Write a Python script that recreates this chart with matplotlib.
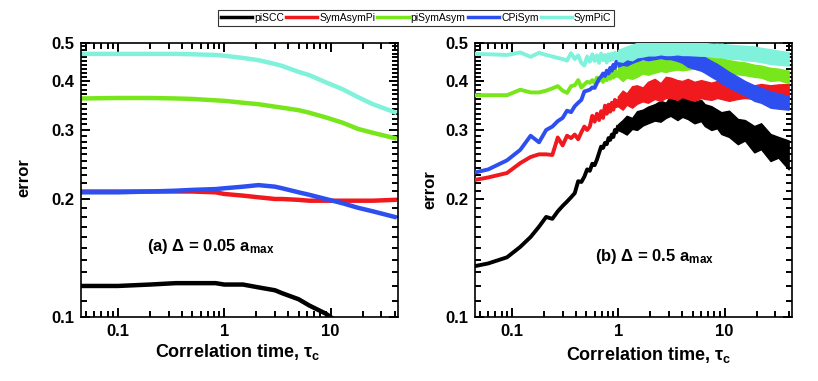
import numpy as np
import matplotlib
matplotlib.use("Agg")
import matplotlib.pyplot as plt
from matplotlib.ticker import FixedLocator, NullFormatter, FixedFormatter

plt.rcParams['font.family'] = ['Liberation Sans', 'DejaVu Sans']
plt.rcParams['mathtext.fontset'] = 'custom'
plt.rcParams['mathtext.rm'] = 'Liberation Sans'
plt.rcParams['mathtext.bf'] = 'Liberation Sans:bold'
plt.rcParams['mathtext.it'] = 'Liberation Sans:italic'

series_names = ["piSCC", "SymAsymPi", "piSymAsym", "CPiSym", "SymPiC"]
colors = ["#000000", "#F0191E", "#77E61A", "#2E4FF0", "#80F2DC"]

# ---------- panel (a): Delta = 0.05 a_max ----------
xa = [0.046, 0.1, 0.2, 0.35, 0.5, 0.83, 1.0, 1.5, 2.1, 3.0, 3.5, 5.0, 6.3, 9.0, 13, 18, 25, 40]
a_piSCC = [.120, .120, .121, .122, .122, .122, .121, .121, .119, .117, .115, .111, .107, .102, .095, .090, .086, .080]
a_SymAsymPi = [.209, .209, .209, .209, .209, .208, .206, .204, .202, .200, .200, .199, .198, .198, .198, .198, .198, .199]
a_piSymAsym = [.361, .362, .362, .361, .360, .357, .356, .352, .349, .344, .342, .337, .332, .323, .313, .302, .295, .286]
a_CPiSym = [.208, .208, .209, .210, .211, .212, .213, .215, .217, .215, .213, .208, .205, .200, .195, .190, .186, .180]
a_SymPiC = [.469, .469, .469, .469, .468, .466, .464, .458, .452, .442, .437, .422, .414, .397, .381, .364, .349, .333]

# ---------- panel (b): Delta = 0.5 a_max ----------
xb = [0.046, 0.06, 0.09, 0.12, 0.15, 0.18, 0.21, 0.24, 0.27, 0.30, 0.33, 0.36, 0.39, 0.42,
      0.45, 0.48, 0.51, 0.54, 0.57, 0.60, 0.63, 0.66, 0.69, 0.72, 0.75, 0.78, 0.81, 0.84,
      0.87, 0.90, 0.93, 0.96, 0.99]
b_piSCC = [.135, .137, .142, .151, .160, .170, .180, .178, .186, .192, .197, .202, .207, .222,
           .221, .228, .238, .236, .246, .244, .252, .262, .272, .270, .278, .276, .286, .283,
           .292, .288, .300, .296, .305]
b_SymAsymPi = [.224, .227, .233, .247, .256, .260, .260, .259, .287, .274, .290, .286, .292, .284,
               .296, .306, .300, .306, .326, .315, .330, .318, .335, .322, .346, .330, .348, .334,
               .352, .338, .358, .345, .355]
b_piSymAsym = [.368, .368, .368, .380, .374, .374, .378, .383, .388, .378, .373, .388, .390, .402,
               .385, .392, .398, .396, .402, .395, .408, .400, .410, .398, .412, .402, .420, .405,
               .425, .408, .428, .412, .420]
b_CPiSym = [.234, .238, .251, .267, .290, .279, .300, .306, .316, .322, .336, .333, .345, .352,
            .358, .376, .378, .380, .385, .384, .395, .405, .410, .418, .412, .425, .418, .432,
            .425, .440, .432, .448, .445]
b_SymPiC = [.469, .468, .466, .473, .461, .472, .466, .462, .458, .455, .451, .471, .455, .465,
            .445, .438, .462, .448, .468, .450, .465, .445, .470, .452, .466, .446, .468, .452,
            .470, .455, .472, .458, .465]

# noisy region (tau >= 1): lower and upper envelope of the noise band
xband = [0.99, 1.1, 1.2, 1.35, 1.5, 1.7, 1.9, 2.2, 2.5, 2.8, 3.1, 3.6, 4.0, 4.5,
         5.2, 6.0, 6.5, 7.5, 8.5, 9.3, 11, 13.3, 15.5, 19, 22, 27, 32, 40]
band_piSCC_lo = [.300, .296, .292, .302, .300, .308, .312, .317, .315, .322, .326, .318, .324, .320,
                 .312, .316, .307, .300, .303, .293, .288, .276, .282, .263, .268, .250, .255, .238]
band_piSCC_hi = [.310, .318, .326, .322, .335, .338, .344, .349, .356, .352, .367, .360, .368, .360,
                 .355, .358, .349, .345, .338, .333, .336, .320, .318, .307, .312, .293, .288, .282]
band_SymAsymPi_lo = [.345, .338, .348, .342, .350, .355, .352, .360, .356, .362, .362, .358, .364, .360,
                     .356, .362, .360, .358, .362, .360, .356, .360, .362, .360, .364, .362, .366, .366]
band_SymAsymPi_hi = [.365, .378, .372, .388, .390, .385, .398, .405, .395, .410, .408, .402, .400, .405,
                     .398, .402, .400, .396, .400, .398, .392, .395, .392, .390, .393, .390, .392, .393]
band_piSymAsym_lo = [.410, .400, .408, .405, .410, .418, .415, .420, .424, .422, .425, .428, .426, .428,
                     .430, .426, .428, .425, .424, .422, .420, .416, .414, .410, .408, .400, .402, .395]
band_piSymAsym_hi = [.430, .440, .436, .448, .452, .450, .456, .458, .455, .462, .460, .462, .465, .462,
                     .460, .462, .462, .460, .458, .458, .452, .448, .446, .440, .438, .432, .430, .425]
band_CPiSym_lo = [.435, .440, .438, .445, .450, .455, .452, .455, .458, .455, .455, .450, .445, .435,
                  .430, .425, .420, .410, .402, .395, .385, .375, .368, .356, .352, .342, .340, .338]
band_CPiSym_hi = [.455, .475, .470, .490, .500, .500, .500, .500, .500, .500, .500, .495, .490, .480,
                  .472, .468, .460, .450, .442, .435, .422, .410, .400, .390, .385, .376, .372, .366]
band_SymPiC_lo = [.450, .448, .455, .452, .460, .462, .465, .465, .468, .466, .466, .468, .466, .466,
                  .465, .464, .464, .462, .460, .460, .456, .455, .452, .450, .447, .442, .440, .438]
band_SymPiC_hi = [.480, .485, .490, .495, .500, .500, .500, .500, .500, .500, .500, .500, .500, .500,
                  .500, .500, .500, .498, .498, .498, .495, .493, .492, .490, .486, .482, .478, .474]

yticks = [0.1, 0.2, 0.3, 0.4, 0.5]
ytick_labels = ["0.1", "0.2", "0.3", "0.4", "0.5"]
xticks = [0.1, 1, 10]
xtick_labels = ["0.1", "1", "10"]
yminor = [0.11, 0.12, 0.13, 0.14, 0.15, 0.16, 0.17, 0.18, 0.19, 0.21, 0.22, 0.23, 0.24, 0.25,
          0.26, 0.27, 0.28, 0.29, 0.31, 0.32, 0.33, 0.34, 0.35, 0.36, 0.37, 0.38, 0.39,
          0.41, 0.42, 0.43, 0.44, 0.45, 0.46, 0.47, 0.48, 0.49]
xminor = [0.05, 0.06, 0.07, 0.08, 0.09, 0.2, 0.3, 0.4, 0.5, 0.6, 0.7, 0.8, 0.9,
          2, 3, 4, 5, 6, 7, 8, 9, 20, 30, 40]

fig = plt.figure(figsize=(8.18, 3.81), dpi=100)
W, H = 818.0, 381.0
ax1 = fig.add_axes([81 / W, 64 / H, 317 / W, 274 / H])
ax2 = fig.add_axes([475 / W, 64 / H, 317 / W, 274 / H])

a_data = [a_piSCC, a_SymAsymPi, a_piSymAsym, a_CPiSym, a_SymPiC]
for name, c, y in zip(series_names, colors, a_data):
    ax1.plot(xa, y, color=c, lw=3.2, label=name, solid_joinstyle='round')

b_data = [b_piSCC, b_SymAsymPi, b_piSymAsym, b_CPiSym, b_SymPiC]
b_lo = [band_piSCC_lo, band_SymAsymPi_lo, band_piSymAsym_lo, band_CPiSym_lo, band_SymPiC_lo]
b_hi = [band_piSCC_hi, band_SymAsymPi_hi, band_piSymAsym_hi, band_CPiSym_hi, band_SymPiC_hi]
for i, (c, y) in enumerate(zip(colors, b_data)):
    ax2.fill_between(xband, b_lo[i], b_hi[i], color=c, lw=1.0, edgecolor=c, zorder=2 + i)
    ax2.plot(xb, y, color=c, lw=2.8, zorder=2 + i, solid_joinstyle='round')

for ax in (ax1, ax2):
    ax.set_xscale('log')
    ax.set_yscale('log')
    ax.set_xlim(0.045, 43)
    ax.set_ylim(0.1, 0.5)
    ax.yaxis.set_major_locator(FixedLocator(yticks))
    ax.yaxis.set_major_formatter(FixedFormatter(ytick_labels))
    ax.yaxis.set_minor_locator(FixedLocator(yminor))
    ax.yaxis.set_minor_formatter(NullFormatter())
    ax.xaxis.set_major_locator(FixedLocator(xticks))
    ax.xaxis.set_major_formatter(FixedFormatter(xtick_labels))
    ax.xaxis.set_minor_locator(FixedLocator(xminor))
    ax.xaxis.set_minor_formatter(NullFormatter())
    ax.tick_params(which='both', direction='in', top=True, right=True, color='black', width=1.4)
    ax.tick_params(which='major', length=6.5, labelsize=12, pad=5)
    ax.tick_params(which='minor', length=4)
    for lab in ax.get_xticklabels() + ax.get_yticklabels():
        lab.set_fontweight('bold')
    for sp in ax.spines.values():
        sp.set_linewidth(1.2)

ax1.text(0.208, 0.257, "(a) \u0394 = 0.05 a$_\\mathbf{max}$", transform=ax1.transAxes,
         fontsize=12, fontweight='bold', ha='left', va='center')
ax2.text(0.379, 0.22, "(b) \u0394 = 0.5 a$_\\mathbf{max}$", transform=ax2.transAxes,
         fontsize=12, fontweight='bold', ha='left', va='center')

fig.text(237 / W, 1 - 352 / H, "Correlation time, \u03c4$_\\mathbf{c}$", fontsize=13,
         fontweight='bold', ha='center', va='center')
fig.text(648 / W, 1 - 355 / H, "Correlation time, \u03c4$_\\mathbf{c}$", fontsize=13,
         fontweight='bold', ha='center', va='center')
fig.text(24 / W, 1 - 178 / H, "error", fontsize=12, fontweight='bold', rotation=90,
         ha='center', va='center')
fig.text(430 / W, 1 - 190 / H, "error", fontsize=12, fontweight='bold', rotation=90,
         ha='center', va='center')

leg = fig.legend(*ax1.get_legend_handles_labels(), loc='center', bbox_to_anchor=(416 / W, 1 - 18 / H),
                 ncol=5, fontsize=7.5, frameon=True, fancybox=False, edgecolor='black',
                 handlelength=3.0, handletextpad=0.2, columnspacing=0.2, borderpad=0.25,
                 borderaxespad=0)
leg.get_frame().set_linewidth(0.8)
for ln in leg.get_lines():
    ln.set_linewidth(2.5)

fig.savefig("out.png", dpi=100)
